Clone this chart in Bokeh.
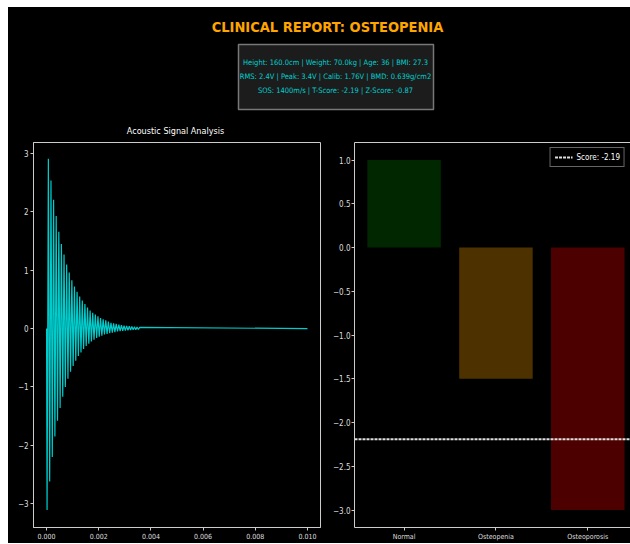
from bokeh.plotting import figure
from bokeh.layouts import column, row
from bokeh.models import Range1d, FixedTicker, LinearAxis, Legend, LegendItem
from bokeh.core.properties import value
from bokeh.embed import file_html
from bokeh.resources import INLINE

# ---------------- data ----------------
report_title = "CLINICAL REPORT: OSTEOPENIA"
info_lines = [
    "Height: 160.0cm | Weight: 70.0kg | Age: 36 | BMI: 27.3",
    "RMS: 2.4V | Peak: 3.4V | Calib: 1.76V | BMD: 0.639g/cm2",
    "SOS: 1400m/s | T-Score: -2.19 | Z-Score: -0.87",
]
signal_title = "Acoustic Signal Analysis"

signal_t = [0.0, 0.00002, 0.00007, 0.00012, 0.00017, 0.00022, 0.00027, 0.00032, 0.00037,
            0.00042, 0.00047, 0.00052, 0.00057, 0.00062, 0.00067, 0.00072, 0.00077,
            0.00082, 0.00087, 0.00092, 0.00097, 0.00102, 0.00107, 0.00112, 0.00117,
            0.00122, 0.00127, 0.00132, 0.00137, 0.00142, 0.00147, 0.00152, 0.00157,
            0.00162, 0.00167, 0.00172, 0.00177, 0.00182, 0.00187, 0.00192, 0.00197,
            0.00202, 0.00207, 0.00212, 0.00217, 0.00222, 0.00227, 0.00232, 0.00237,
            0.00242, 0.00247, 0.00252, 0.00257, 0.00262, 0.00267, 0.00272, 0.00277,
            0.00282, 0.00287, 0.00292, 0.00297, 0.00302, 0.00307, 0.00312, 0.00317,
            0.00322, 0.00327, 0.00332, 0.00337, 0.00342, 0.00347, 0.00352, 0.00357,
            0.01]
signal_v = [0.0, -3.11, 2.91, -2.62, 2.54, -2.20, 2.21, -1.85, 1.93,
            -1.58, 1.66, -1.36, 1.45, -1.17, 1.27, -1.00, 1.10,
            -0.86, 0.96, -0.74, 0.83, -0.64, 0.72, -0.55, 0.63,
            -0.47, 0.55, -0.41, 0.48, -0.35, 0.42, -0.30, 0.36,
            -0.26, 0.31, -0.22, 0.27, -0.19, 0.24, -0.16, 0.21,
            -0.14, 0.18, -0.12, 0.16, -0.10, 0.14, -0.09, 0.12,
            -0.08, 0.10, -0.07, 0.09, -0.06, 0.08, -0.05, 0.07,
            -0.045, 0.06, -0.04, 0.05, -0.035, 0.045, -0.03, 0.04,
            -0.025, 0.035, -0.02, 0.03, -0.018, 0.025, -0.015, 0.02,
            0.0]

sig_x_ticks = [0.0, 0.002, 0.004, 0.006, 0.008, 0.010]
sig_x_labels = ["0.000", "0.002", "0.004", "0.006", "0.008", "0.010"]
sig_y_ticks = [-3, -2, -1, 0, 1, 2, 3]
sig_y_labels = ["\u22123", "\u22122", "\u22121", "0", "1", "2", "3"]

categories = ["Normal", "Osteopenia", "Osteoporosis"]
bar_values = [1.0, -1.5, -3.0]
bar_colors = ["green", "orange", "red"]
t_score = -2.19
score_label = "Score: -2.19"
bar_y_ticks = [-3.0, -2.5, -2.0, -1.5, -1.0, -0.5, 0.0, 0.5, 1.0]
bar_y_labels = ["\u22123.0", "\u22122.5", "\u22122.0", "\u22121.5", "\u22121.0", "\u22120.5", "0.0", "0.5", "1.0"]

FONT = "'DejaVu Sans Condensed', 'DejaVu Sans', sans-serif"
BG = "black"
SPINE = "#cccccc"
BLACK_BOX = {"background-color": "black"}

# ---------------- header ----------------
hdr = figure(width=622, height=130, x_range=Range1d(0, 622), y_range=Range1d(130, 0),
             x_axis_type=None, y_axis_type=None, output_backend="svg", toolbar_location=None,
             min_border=0, background_fill_color=BG, border_fill_color=BG, outline_line_color=None)
hdr.grid.visible = False
hdr.text(x=[319], y=[19], text=[report_title], text_font=value(FONT), text_font_size="14.5px",
         text_font_style="bold", text_color="#ffa500", text_align="center", text_baseline="alphabetic")
hdr.quad(left=[230], right=[425], top=[37], bottom=[102], fill_color="#1c1c1c",
         line_color="#777777", line_width=1.5)
hdr.text(x=[327, 327, 327], y=[55, 69, 83], text=info_lines, text_font=value(FONT),
         text_font_size="7.5px", text_color="#00d0d0", text_align="center", text_baseline="middle")
hdr.text(x=[167], y=[123], text=[signal_title], text_font=value(FONT), text_font_size="9px",
         text_color="white", text_align="center", text_baseline="middle")


def style_axes(p):
    for ax in p.axis:
        ax.axis_line_color = SPINE
        ax.major_tick_line_color = SPINE
        ax.major_tick_out = 3
        ax.major_tick_in = 0
        ax.minor_tick_line_color = None
        ax.major_label_text_color = "#dddddd"
        ax.major_label_text_font = FONT
        ax.major_label_standoff = 2
    for ax in p.xaxis:
        ax.major_label_text_font_size = "7px"
    for ax in p.yaxis:
        ax.major_label_text_font_size = "8px"


# ---------------- signal plot ----------------
left = figure(width=322, height=406, x_range=Range1d(-0.0005, 0.0105), y_range=Range1d(-3.41, 3.19),
              output_backend="svg", toolbar_location=None, background_fill_color=BG,
              border_fill_color=BG, outline_line_color=SPINE, min_border_left=25,
              min_border_right=10, min_border_top=5, min_border_bottom=14)
left.grid.visible = False
left.line(signal_t, signal_v, line_color="#00cccc", line_width=1.2)
left.xaxis.ticker = FixedTicker(ticks=sig_x_ticks)
left.xaxis.major_label_overrides = dict(zip(sig_x_ticks, sig_x_labels))
left.yaxis.ticker = FixedTicker(ticks=sig_y_ticks)
left.yaxis.major_label_overrides = dict(zip(sig_y_ticks, sig_y_labels))
style_axes(left)

# ---------------- score plot ----------------
right = figure(width=300, height=406, x_range=Range1d(-0.54, 2.465), y_range=Range1d(-3.2, 1.2),
               output_backend="svg", toolbar_location=None, background_fill_color=BG,
               border_fill_color=BG, outline_line_color=None, min_border_left=22,
               min_border_right=0, min_border_top=5, min_border_bottom=14)
right.grid.visible = False
cat_x = list(range(len(categories)))
right.vbar(x=cat_x, width=0.8, top=bar_values, bottom=0, fill_color=bar_colors,
           fill_alpha=0.3, line_color=None)
score_r = right.line(x=[right.x_range.start, right.x_range.end], y=[t_score, t_score],
                     line_color="#e0e0e0", line_width=2, line_dash="3 1")
right.xaxis.ticker = FixedTicker(ticks=cat_x)
right.xaxis.major_label_overrides = dict(zip(cat_x, categories))
right.yaxis.ticker = FixedTicker(ticks=bar_y_ticks)
right.yaxis.major_label_overrides = dict(zip(bar_y_ticks, bar_y_labels))
style_axes(right)
right.yaxis.major_label_standoff = 1
top_ax = LinearAxis(ticker=FixedTicker(ticks=[]), major_tick_out=0, major_tick_in=0,
                    minor_tick_out=0, minor_tick_in=0, major_label_standoff=0,
                    axis_line_color=SPINE, major_tick_line_color=None, minor_tick_line_color=None)
right.add_layout(top_ax, "above")

legend = Legend(items=[LegendItem(label=score_label, renderers=[score_r])], location="top_right",
                background_fill_color=BG, background_fill_alpha=1.0, border_line_color=SPINE,
                label_text_color="white", label_text_font=FONT, label_text_font_size="8px",
                glyph_width=18, glyph_height=10, padding=4, margin=5, label_height=10,
                label_standoff=4, spacing=0)
right.add_layout(legend)

layout = column(hdr, row(left, right, styles=BLACK_BOX), margin=(7, 0, 0, 8), styles=BLACK_BOX)
open("out.html", "w").write(file_html(layout, INLINE))
